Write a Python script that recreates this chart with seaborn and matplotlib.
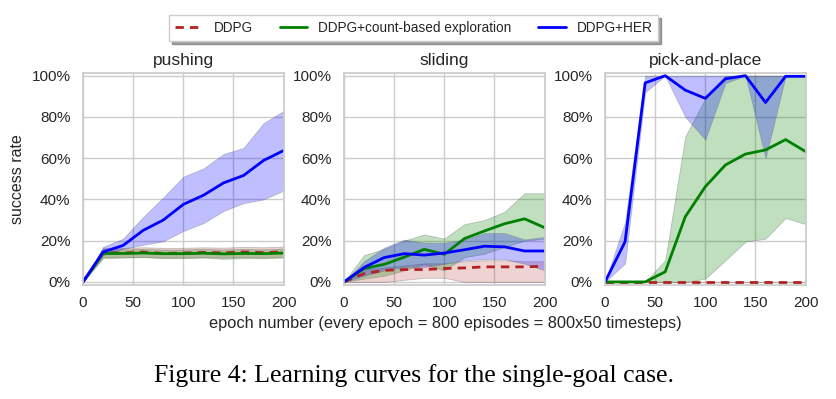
import numpy as np
import pandas as pd
import matplotlib
matplotlib.use("Agg")
import matplotlib.pyplot as plt
from matplotlib.ticker import PercentFormatter
from matplotlib.lines import Line2D
import seaborn as sns

# ---------------- data ----------------
epochs = [0, 20, 40, 60, 80, 100, 120, 140, 160, 180, 200]
tasks = ["pushing", "sliding", "pick-and-place"]
methods = ["DDPG", "DDPG+count-based exploration", "DDPG+HER"]

# pushing
push_ddpg_mean = [0, 0.142, 0.140, 0.145, 0.138, 0.140, 0.143, 0.141, 0.145, 0.142, 0.146]
push_ddpg_hi   = [0, 0.165, 0.165, 0.168, 0.165, 0.165, 0.168, 0.166, 0.170, 0.168, 0.172]
push_ddpg_lo   = [0, 0.120, 0.120, 0.122, 0.118, 0.118, 0.120, 0.118, 0.120, 0.118, 0.122]
push_cnt_mean  = [0, 0.138, 0.138, 0.140, 0.137, 0.137, 0.139, 0.136, 0.138, 0.137, 0.140]
push_cnt_hi    = [0, 0.160, 0.158, 0.160, 0.157, 0.157, 0.160, 0.157, 0.160, 0.158, 0.162]
push_cnt_lo    = [0, 0.115, 0.118, 0.120, 0.115, 0.115, 0.118, 0.112, 0.115, 0.115, 0.118]
push_her_mean  = [0, 0.145, 0.177, 0.250, 0.300, 0.376, 0.420, 0.480, 0.516, 0.589, 0.637]
push_her_hi    = [0, 0.170, 0.210, 0.315, 0.410, 0.510, 0.550, 0.620, 0.650, 0.770, 0.830]
push_her_lo    = [0, 0.130, 0.160, 0.180, 0.197, 0.247, 0.285, 0.344, 0.382, 0.400, 0.443]

# sliding
slide_ddpg_mean = [0, 0.040, 0.056, 0.060, 0.060, 0.065, 0.068, 0.073, 0.073, 0.073, 0.076]
slide_ddpg_hi   = [0, 0.060, 0.070, 0.080, 0.090, 0.090, 0.100, 0.105, 0.105, 0.100, 0.100]
slide_ddpg_lo   = [0, 0.000, 0.000, 0.010, 0.020, 0.020, 0.000, 0.000, 0.000, 0.000, 0.000]
slide_cnt_mean  = [0, 0.065, 0.085, 0.120, 0.158, 0.134, 0.210, 0.247, 0.282, 0.306, 0.263]
slide_cnt_hi    = [0, 0.130, 0.160, 0.200, 0.230, 0.210, 0.280, 0.300, 0.340, 0.430, 0.430]
slide_cnt_lo    = [0, 0.016, 0.030, 0.056, 0.085, 0.056, 0.120, 0.137, 0.170, 0.200, 0.210]
slide_her_mean  = [0, 0.070, 0.118, 0.137, 0.130, 0.140, 0.156, 0.173, 0.170, 0.150, 0.150]
slide_her_hi    = [0, 0.100, 0.166, 0.205, 0.190, 0.190, 0.205, 0.237, 0.237, 0.206, 0.218]
slide_her_lo    = [0, 0.030, 0.056, 0.072, 0.072, 0.088, 0.105, 0.110, 0.110, 0.088, 0.056]

# pick-and-place
pick_ddpg_mean = [0, 0, 0, 0, 0, 0, 0, 0, 0, 0, 0]
pick_ddpg_hi   = [0, 0, 0, 0, 0, 0, 0, 0, 0, 0, 0]
pick_ddpg_lo   = [0, 0, 0, 0, 0, 0, 0, 0, 0, 0, 0]
pick_cnt_mean  = [0, 0, 0, 0.049, 0.316, 0.462, 0.567, 0.620, 0.640, 0.690, 0.632]
pick_cnt_hi    = [0, 0, 0, 0.105, 0.705, 0.890, 1.0, 1.0, 1.0, 1.0, 1.0]
pick_cnt_lo    = [0, 0, 0, 0, 0, 0.016, 0.105, 0.195, 0.210, 0.310, 0.280]
pick_her_mean  = [0, 0.195, 0.965, 1.0, 0.930, 0.890, 0.985, 1.0, 0.870, 0.997, 0.997]
pick_her_hi    = [0, 0.290, 1.0, 1.0, 1.0, 1.0, 1.0, 1.0, 1.0, 1.0, 1.0]
pick_her_lo    = [0, 0.090, 0.920, 1.0, 0.800, 0.690, 0.965, 1.0, 0.600, 0.997, 0.997]

y_ticks = [0, 0.2, 0.4, 0.6, 0.8, 1.0]
x_ticks = [0, 50, 100, 150, 200]
y_label = "success rate"
x_label = "epoch number (every epoch = 800 episodes = 800x50 timesteps)"
caption = "Figure 4: Learning curves for the single-goal case."

series = {
    "pushing": [(push_ddpg_mean, push_ddpg_lo, push_ddpg_hi),
                (push_cnt_mean, push_cnt_lo, push_cnt_hi),
                (push_her_mean, push_her_lo, push_her_hi)],
    "sliding": [(slide_ddpg_mean, slide_ddpg_lo, slide_ddpg_hi),
                (slide_cnt_mean, slide_cnt_lo, slide_cnt_hi),
                (slide_her_mean, slide_her_lo, slide_her_hi)],
    "pick-and-place": [(pick_ddpg_mean, pick_ddpg_lo, pick_ddpg_hi),
                       (pick_cnt_mean, pick_cnt_lo, pick_cnt_hi),
                       (pick_her_mean, pick_her_lo, pick_her_hi)],
}

rows = []
for t in tasks:
    for m, (mean, lo, hi) in zip(methods, series[t]):
        for e, v, l, h in zip(epochs, mean, lo, hi):
            rows.append(dict(task=t, method=m, epoch=e, rate=v, lo=l, hi=h))
df = pd.DataFrame(rows)

# ---------------- style ----------------
sns.set_theme(style="whitegrid", rc={
    "axes.edgecolor": ".8", "grid.color": ".8", "axes.linewidth": 1.25,
    "grid.linewidth": 1.0,
})
plt.rcParams["font.family"] = ["Liberation Sans", "DejaVu Sans"]

colors = {"DDPG": "#b22222", "DDPG+count-based exploration": "#008000", "DDPG+HER": "#0000ff"}
band_alpha = {"DDPG": 0.2, "DDPG+count-based exploration": 0.25, "DDPG+HER": 0.25}
dashes = {"DDPG": (3, 2.2), "DDPG+count-based exploration": "", "DDPG+HER": ""}

fig = plt.figure(figsize=(8.36, 3.99), dpi=100)
lefts = [0.0993, 0.4115, 0.7237]
axes = [fig.add_axes([l, 0.2857, 0.2400, 0.5313]) for l in lefts]

for ax, t in zip(axes, tasks):
    sub = df[df.task == t]
    for m in methods:
        s = sub[sub.method == m]
        ax.fill_between(s.epoch, s.lo, s.hi,
                        facecolor=matplotlib.colors.to_rgba(colors[m], band_alpha[m]),
                        edgecolor=(0.4, 0.4, 0.4, 0.35), linewidth=0.6)
    sns.lineplot(data=sub, x="epoch", y="rate", hue="method", style="method",
                 hue_order=methods, style_order=methods, palette=colors, dashes=dashes,
                 linewidth=2.0, ax=ax, legend=False, errorbar=None)
    ax.set_xlim(0, 200)
    ax.set_ylim(-0.015, 1.013)
    ax.set_xticks(x_ticks)
    ax.set_yticks(y_ticks)
    ax.yaxis.set_major_formatter(PercentFormatter(1.0, decimals=0))
    ax.tick_params(axis="y", labelsize=11, colors=".15", pad=3)
    ax.tick_params(axis="x", labelsize=11, colors=".15", pad=2)
    ax.set_title(t, fontsize=12.5, color=".15", pad=6)
    ax.set_xlabel("")
    ax.set_ylabel("")

axes[0].set_ylabel(y_label, fontsize=11.5, color=".15", labelpad=5)

fig.text(0.533, 0.190, x_label, ha="center", va="center", fontsize=11.8, color=".15")
fig.text(0.495, 0.06, caption, ha="center", va="center", fontsize=18.5,
         family=["Liberation Serif", "DejaVu Serif"], color="black")

handles = [Line2D([], [], color=colors["DDPG"], lw=2.0, dashes=dashes["DDPG"]),
           Line2D([], [], color=colors[methods[1]], lw=2.0),
           Line2D([], [], color=colors[methods[2]], lw=2.0)]
leg = fig.legend(handles, methods, loc="upper center", bbox_to_anchor=(0.495, 0.98), ncol=3,
                 fontsize=9.8, frameon=True, shadow=True, fancybox=False, borderpad=0.45,
                 columnspacing=2.0, handlelength=2.0)
leg.get_frame().set_edgecolor(".8")
for txt in leg.get_texts():
    txt.set_color(".15")

fig.savefig("out.png", dpi=100)
